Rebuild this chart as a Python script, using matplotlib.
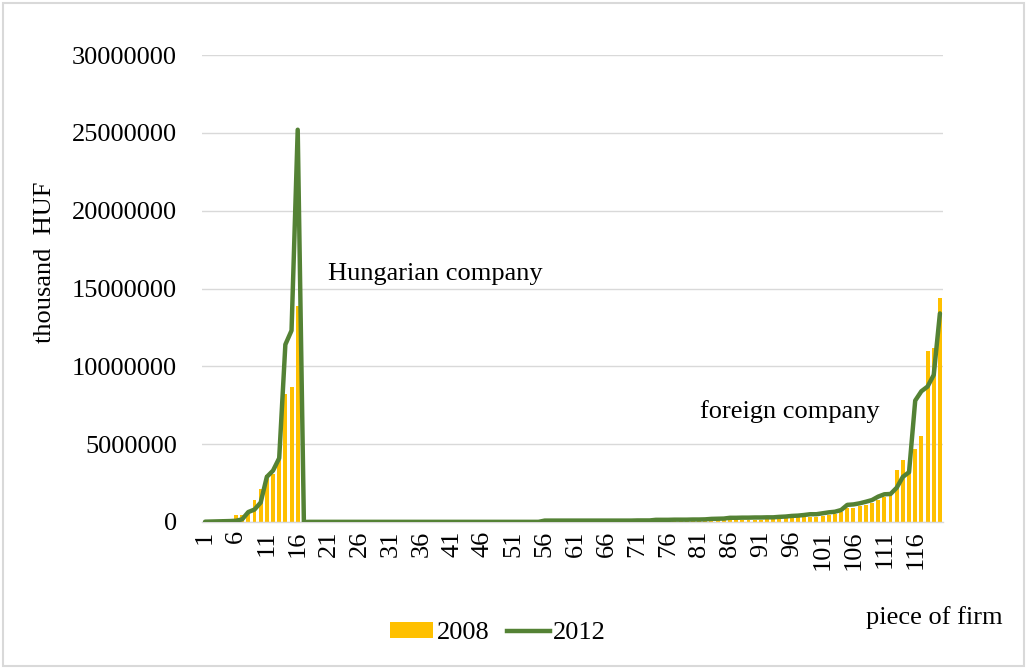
import matplotlib
matplotlib.use("Agg")
import matplotlib.pyplot as plt
from matplotlib.patches import Rectangle
from matplotlib.lines import Line2D
from matplotlib.patches import Patch

# ---- data (values in million thousand-HUF, converted below) ----
firms = list(range(1, 121))

values_2008_mln = [
    0.02, 0.05, 0.10, 0.20, 0.17, 0.47, 0.43, 0.70, 1.40, 2.10,
    3.00, 3.10, 4.00, 8.20, 8.70, 13.90, 0.02, 0.02, 0.02, 0.02,
    0.02, 0.02, 0.02, 0.02, 0.02, 0.02, 0.02, 0.02, 0.02, 0.02,
    0.02, 0.02, 0.02, 0.02, 0.02, 0.02, 0.02, 0.02, 0.02, 0.02,
    0.02, 0.02, 0.02, 0.02, 0.02, 0.02, 0.02, 0.02, 0.02, 0.02,
    0.02, 0.02, 0.02, 0.02, 0.02, 0.03, 0.03, 0.03, 0.03, 0.03,
    0.03, 0.03, 0.03, 0.03, 0.03, 0.03, 0.03, 0.03, 0.03, 0.03,
    0.03, 0.03, 0.04, 0.06, 0.06, 0.07, 0.07, 0.07, 0.08, 0.08,
    0.08, 0.09, 0.09, 0.10, 0.10, 0.11, 0.11, 0.12, 0.12, 0.13,
    0.15, 0.17, 0.19, 0.20, 0.24, 0.27, 0.30, 0.33, 0.30, 0.35,
    0.40, 0.45, 0.50, 0.62, 0.88, 0.92, 1.00, 1.10, 1.20, 1.40,
    1.60, 1.73, 3.34, 4.00, 3.20, 4.70, 5.50, 11.00, 11.20, 14.40,
]

values_2012_mln = [
    0.02, 0.03, 0.04, 0.05, 0.06, 0.08, 0.17, 0.64, 0.80, 1.25,
    2.90, 3.30, 4.10, 11.40, 12.30, 25.20, 0.00, 0.01, 0.01, 0.01,
    0.01, 0.01, 0.01, 0.01, 0.01, 0.01, 0.01, 0.01, 0.01, 0.01,
    0.01, 0.01, 0.01, 0.01, 0.01, 0.01, 0.01, 0.01, 0.01, 0.01,
    0.01, 0.01, 0.01, 0.01, 0.01, 0.01, 0.01, 0.01, 0.01, 0.01,
    0.01, 0.01, 0.01, 0.01, 0.01, 0.09, 0.09, 0.09, 0.09, 0.09,
    0.09, 0.09, 0.09, 0.09, 0.09, 0.09, 0.09, 0.09, 0.09, 0.09,
    0.10, 0.10, 0.10, 0.14, 0.14, 0.14, 0.15, 0.15, 0.15, 0.16,
    0.16, 0.17, 0.20, 0.21, 0.22, 0.27, 0.27, 0.28, 0.28, 0.29,
    0.29, 0.30, 0.30, 0.33, 0.35, 0.39, 0.41, 0.45, 0.50, 0.50,
    0.56, 0.62, 0.66, 0.77, 1.10, 1.13, 1.20, 1.30, 1.41, 1.63,
    1.78, 1.80, 2.20, 2.90, 3.20, 7.80, 8.40, 8.70, 9.45, 13.40,
]

values_2008 = [v * 1e6 for v in values_2008_mln]
values_2012 = [v * 1e6 for v in values_2012_mln]

y_ticks = [0, 5000000, 10000000, 15000000, 20000000, 25000000, 30000000]
x_ticks = list(range(1, 121, 5))

bar_color = "#FFC000"
line_color = "#548235"
grid_color = "#D9D9D9"
font = "Liberation Serif"
fs = 19

fig = plt.figure(figsize=(10.27, 6.69), dpi=100)
ax = fig.add_axes([202 / 1027, 1 - 522 / 669, (943 - 202) / 1027, (522 - 55) / 669])

ax.bar(firms, values_2008, width=0.64, color=bar_color, zorder=2)
ax.plot(firms, values_2012, color=line_color, linewidth=3.2, zorder=3,
        solid_joinstyle="round", solid_capstyle="round")

ax.set_xlim(0.5, 120.5)
ax.set_ylim(0, 30000000)
ax.set_yticks(y_ticks)
ax.set_yticklabels([str(t) for t in y_ticks], fontfamily=font, fontsize=fs)
ax.set_xticks(x_ticks)
ax.set_xticklabels([str(t) for t in x_ticks], fontfamily=font, fontsize=fs,
                   rotation=90)
ax.tick_params(axis="both", length=0, pad=6)
ax.tick_params(axis="y", pad=18)
ax.grid(axis="y", color=grid_color, linewidth=1.0, zorder=0)
ax.set_axisbelow(True)
for s in ["top", "right", "left"]:
    ax.spines[s].set_visible(False)
ax.spines["bottom"].set_color(grid_color)
ax.spines["bottom"].set_linewidth(1.0)

fig.text(45 / 1027, 1 - 262 / 669, "thousand  HUF", rotation=90, fontfamily=font,
         fontsize=fs, ha="center", va="center")
fig.text(328 / 1027, 1 - 274 / 669, "Hungarian company", fontfamily=font,
         fontsize=fs, ha="left", va="center")
fig.text(700 / 1027, 1 - 412 / 669, "foreign company", fontfamily=font,
         fontsize=fs, ha="left", va="center")
fig.text(866 / 1027, 1 - 618 / 669, "piece of firm", fontfamily=font,
         fontsize=fs, ha="left", va="center")

handles = [Patch(facecolor=bar_color, edgecolor="none", label="2008"),
           Line2D([0], [0], color=line_color, linewidth=3.2, label="2012")]
leg = fig.legend(handles=handles, loc="center", bbox_to_anchor=(498 / 1027, 1 - 633 / 669),
                 ncol=2, frameon=False, prop={"family": font, "size": fs},
                 handlelength=1.65, handletextpad=0.12, columnspacing=0.65,
                 handleheight=0.55, borderpad=0.2)

fig.patches.append(Rectangle((3 / 1027, 3 / 669), 1021 / 1027, 663 / 669,
                             transform=fig.transFigure, fill=False,
                             edgecolor=grid_color, linewidth=1.5))

fig.savefig("out.png", dpi=100)
